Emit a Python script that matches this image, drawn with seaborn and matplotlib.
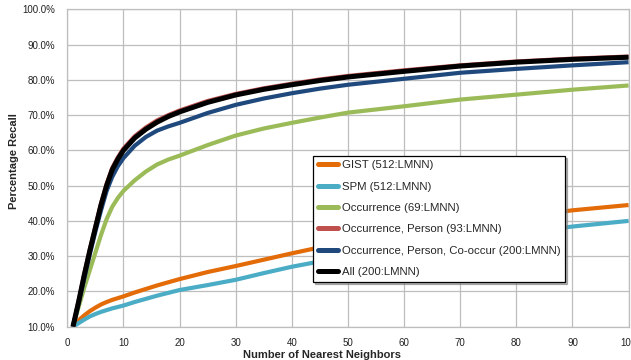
import pandas as pd
import matplotlib
matplotlib.use('Agg')
import matplotlib.pyplot as plt
from matplotlib.ticker import PercentFormatter, MultipleLocator
import seaborn as sns

k = [1, 2, 3, 4, 5, 6, 7, 8, 9, 10, 12, 14, 16, 18, 20, 25, 30, 35, 40, 45,
     50, 60, 70, 80, 90, 100]

gist = [10, 11.8, 13.2, 14.4, 15.4, 16.3, 17.0, 17.6, 18.1, 18.6, 19.7, 20.7,
        21.7, 22.6, 23.5, 25.5, 27.2, 29.0, 30.8, 32.5, 34.0, 36.7, 39.0, 41.0,
        43.0, 44.5]
spm = [10, 11.0, 12.0, 12.9, 13.6, 14.2, 14.7, 15.2, 15.6, 16.0, 17.0, 17.9,
       18.8, 19.6, 20.4, 21.8, 23.3, 25.2, 27.0, 28.5, 29.9, 32.4, 34.6, 36.5,
       38.4, 40.0]
occ = [10, 15.5, 21.0, 26.0, 31.0, 36.0, 40.5, 44.0, 46.5, 48.5, 51.5, 54.0,
       56.0, 57.4, 58.5, 61.5, 64.2, 66.2, 67.8, 69.3, 70.7, 72.5, 74.4, 75.8,
       77.2, 78.4]
occ_person = [10, 17.2, 24.8, 31.8, 38.4, 44.9, 50.5, 55.0, 58.0, 60.5, 64.0,
              66.5, 68.5, 70.0, 71.3, 74.0, 76.0, 77.6, 78.9, 80.1, 81.1, 82.7,
              84.1, 85.2, 86.0, 86.6]
occ_person_co = [10, 16.5, 23.5, 30.5, 37.0, 43.0, 48.5, 52.5, 55.5, 57.8,
                 61.3, 63.8, 65.6, 66.8, 67.8, 70.6, 72.9, 74.7, 76.2, 77.5,
                 78.6, 80.3, 82.0, 83.1, 84.1, 85.0]
all_feat = [10, 17.0, 24.5, 31.5, 38.0, 44.5, 50.0, 54.5, 57.5, 60.0, 63.5,
            66.0, 68.0, 69.6, 70.9, 73.6, 75.7, 77.3, 78.6, 79.8, 80.8, 82.4,
            83.9, 85.0, 85.8, 86.4]

labels = ['GIST (512:LMNN)', 'SPM (512:LMNN)', 'Occurrence (69:LMNN)',
          'Occurrence, Person (93:LMNN)',
          'Occurrence, Person, Co-occur (200:LMNN)', 'All (200:LMNN)']
series = [gist, spm, occ, occ_person, occ_person_co, all_feat]
colors = ['#E36C09', '#4BACC6', '#9BBB59', '#C0504D', '#1F497D', '#000000']
widths = [3.0, 3.0, 3.0, 3.0, 3.0, 3.6]

df = pd.concat([pd.DataFrame({'k': k, 'recall': v, 'series': lab})
                for lab, v in zip(labels, series)])

sns.set_style('white')
plt.rcParams['font.family'] = ['Liberation Sans', 'DejaVu Sans']

fig = plt.figure(figsize=(6.31, 3.6), dpi=100)
ax = fig.add_axes([0.1067, 0.0925, 0.8895, 0.8817])

for lab, col, lw in zip(labels, colors, widths):
    sns.lineplot(data=df[df['series'] == lab], x='k', y='recall', color=col,
                 linewidth=lw, label=lab, ax=ax, solid_capstyle='butt')

ax.set_xlim(0, 100)
ax.set_ylim(10, 100)
ax.xaxis.set_major_locator(MultipleLocator(10))
ax.yaxis.set_major_locator(MultipleLocator(10))
ax.yaxis.set_major_formatter(PercentFormatter(decimals=1))
ax.grid(True, color='#BEBEBE', linewidth=0.9)
ax.set_axisbelow(True)
for s in ax.spines.values():
    s.set_color('#BEBEBE')
    s.set_linewidth(0.9)
ax.tick_params(axis='both', length=3, color='#BEBEBE', labelsize=7,
               labelcolor='#222222')
ax.tick_params(axis='y', pad=6)
ax.tick_params(axis='x', pad=5)

ax.set_xlabel('Number of Nearest Neighbors', fontsize=8, fontweight='bold')
ax.set_ylabel('Percentage Recall', fontsize=8, fontweight='bold')
ax.xaxis.set_label_coords(0.454, -0.074)
ax.yaxis.set_label_coords(-0.0855, 0.522)

leg = ax.legend(loc='upper left', bbox_to_anchor=(0.4377, 0.5388),
                borderaxespad=0, fontsize=8.2, frameon=True, fancybox=False,
                edgecolor='black', framealpha=1, handlelength=1.8,
                handletextpad=0.35, labelspacing=1.0, borderpad=0.4,
                shadow={'color': '#808080', 'alpha': 0.6, 'ox': 1.5,
                        'oy': -1.5})
leg.get_frame().set_linewidth(0.9)
for h in leg.get_lines():
    h.set_linewidth(3.6)
    h.set_solid_capstyle('round')

fig.savefig('out.png', dpi=100)
